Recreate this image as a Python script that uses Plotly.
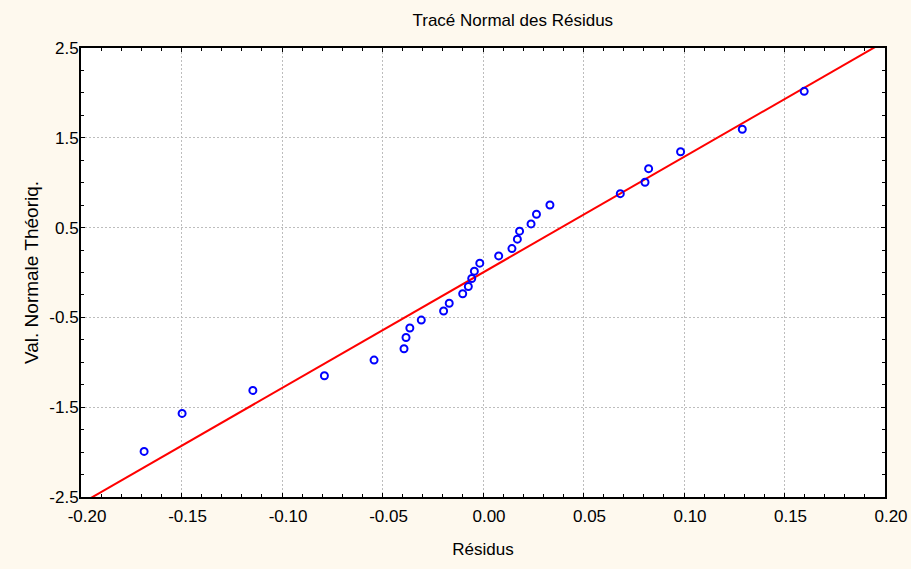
import plotly.graph_objects as go

# Residuals (x) and theoretical normal values (y)
residus = [-0.1686, -0.1497, -0.1145, -0.0789, -0.0542, -0.0393, -0.0383, -0.0364,
           -0.0307, -0.0196, -0.0168, -0.0101, -0.0073, -0.0056, -0.0043, -0.0016,
           0.0078, 0.0144, 0.0171, 0.0182, 0.0239, 0.0266, 0.0333, 0.0683,
           0.0806, 0.0824, 0.0983, 0.1290, 0.1598]
val_normale = [-1.992, -1.569, -1.313, -1.150, -0.975, -0.849, -0.724, -0.618,
               -0.530, -0.429, -0.343, -0.237, -0.156, -0.067, 0.015, 0.104,
               0.185, 0.266, 0.371, 0.460, 0.541, 0.649, 0.752, 0.878,
               1.005, 1.156, 1.345, 1.595, 2.017]

# Reference line (fitted normal line)
line_slope = 12.87
line_intercept = 0.0
line_x = [-0.20, 0.20]
line_y = [line_intercept + line_slope * v for v in line_x]

x_tick_vals = [-0.20, -0.15, -0.10, -0.05, 0.00, 0.05, 0.10, 0.15, 0.20]
x_tick_labels = ["-0.20", "-0.15", "-0.10", "-0.05", "0.00", "0.05", "0.10", "0.15", "0.20"]
y_tick_vals = [-2.5, -1.5, -0.5, 0.5, 1.5, 2.5]
y_tick_labels = ["-2.5", "-1.5", "-0.5", "0.5", "1.5", "2.5"]

FONT = "Arial, 'Liberation Sans', sans-serif"
BG = "#FEF9EE"

fig = go.Figure()
fig.add_trace(go.Scatter(
    x=line_x, y=line_y, mode="lines",
    line=dict(color="#FF0000", width=2),
    hoverinfo="skip", showlegend=False,
))
fig.add_trace(go.Scatter(
    x=residus, y=val_normale, mode="markers",
    marker=dict(symbol="circle-open", size=7, color="#0000FF", line=dict(width=2, color="#0000FF")),
    showlegend=False,
))

axis_common = dict(
    showline=True, linecolor="black", linewidth=2, mirror="allticks",
    ticks="inside", ticklen=4, tickwidth=1, tickcolor="black",
    showgrid=True, gridcolor="#BDBDBD", gridwidth=1, griddash="2px,2px",
    zeroline=False, automargin=False,
    tickfont=dict(family=FONT, size=17, color="black"),
)

fig.update_layout(
    width=911, height=569,
    paper_bgcolor=BG, plot_bgcolor="white",
    margin=dict(l=81, r=26, t=48, b=72),
    font=dict(family=FONT, color="black"),
    title=dict(text="Tracé Normal des Résidus", x=512.8 / 911, xref="container", xanchor="center",
               y=1 - 20 / 569, yref="container", yanchor="middle",
               font=dict(family=FONT, size=17, color="black")),
    xaxis=dict(
        range=[-0.20, 0.20], tickvals=x_tick_vals, ticktext=x_tick_labels,
        minor=dict(ticks="inside", dtick=0.01, tick0=-0.2, ticklen=3, tickcolor="black", showgrid=False),
        title=dict(text="Résidus", font=dict(family=FONT, size=17, color="black"), standoff=18),
        ticklabelshift=6, ticklabelstandoff=3,
        **axis_common,
    ),
    yaxis=dict(
        range=[-2.5, 2.5], tickvals=y_tick_vals, ticktext=y_tick_labels,
        minor=dict(ticks="inside", dtick=0.25, tick0=-2.5, ticklen=3, tickcolor="black", showgrid=False),
        title=dict(text="Val. Normale Théoriq.", font=dict(family=FONT, size=19, color="black"), standoff=6),
        ticklabelstandoff=-3,
        **axis_common,
    ),
)

fig.write_html("out.html")
